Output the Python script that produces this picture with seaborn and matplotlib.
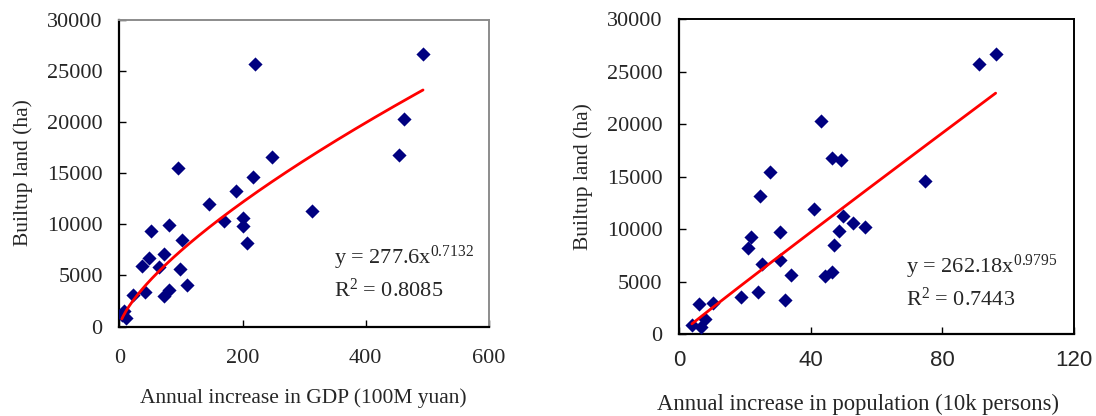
import numpy as np
import pandas as pd
import matplotlib
matplotlib.use("Agg")
import matplotlib.pyplot as plt
import seaborn as sns

# ---- data ----
gdp_x = [493, 220, 462, 454, 248, 96, 217, 190, 145, 312, 170, 200, 200, 207, 80,
         52, 102, 72, 48, 65, 36, 98, 110, 41, 81, 72, 22, 7, 10, 4]
gdp_y = [26660, 25700, 20300, 16800, 16600, 15500, 14600, 13200, 12000, 11300, 10300,
         10600, 9800, 8200, 9900, 9300, 8500, 7100, 6700, 5800, 5900, 5600, 4100, 3400,
         3600, 3000, 3100, 1500, 800, 1100]

pop_x = [96.2, 91.2, 43.2, 46.6, 49.2, 27.6, 74.8, 24.6, 41.0, 49.7, 52.9, 56.4, 48.5,
         30.7, 21.9, 20.8, 47.1, 25.1, 30.8, 34.1, 46.4, 44.3, 24.0, 18.8, 32.3, 6.1,
         10.2, 8.0, 3.9, 6.6]
pop_y = [26670, 25740, 20310, 16820, 16600, 15460, 14600, 13140, 11960, 11270, 10570,
         10250, 9840, 9770, 9300, 8190, 8500, 6670, 7050, 5680, 5900, 5520, 4000, 3580,
         3300, 2920, 2980, 1460, 890, 670]

# power trend lines y = a * x^b (from the equations shown)
gdp_fit = (277.6, 0.7132, 0.8085)
pop_fit = (262.18, 0.9795, 0.7443)

gdp_ticks = [0, 200, 400, 600]
pop_ticks = [0, 40, 80, 120]
y_ticks = [0, 5000, 10000, 15000, 20000, 25000, 30000]

sns.set_style("ticks")
serif = ["Liberation Serif", "DejaVu Serif"]
narrow = ["Liberation Sans Narrow", "Liberation Sans", "DejaVu Sans"]
plt.rcParams["font.family"] = serif
plt.rcParams["mathtext.fontset"] = "custom"
plt.rcParams["mathtext.rm"] = "Liberation Serif"
plt.rcParams["mathtext.it"] = "Liberation Serif:italic"
plt.rcParams["mathtext.bf"] = "Liberation Serif:bold"

fig = plt.figure(figsize=(10.96, 4.16), dpi=100)
ax1 = fig.add_axes([0.1089, 0.215, 0.3372, 0.738])
ax2 = fig.add_axes([0.6196, 0.1964, 0.3603, 0.7572])

navy = "#000080"


def panel(ax, xs, ys, fit, xmax, xticks, xlabel, xlabel_size, xlabel_xy, eq_pos,
          xtick_family, xpad, frame_col, eq_text):
    df = pd.DataFrame({"x": xs, "y": ys})
    sns.scatterplot(data=df, x="x", y="y", ax=ax, marker="D", s=52, color=navy,
                    edgecolor=navy, linewidth=0, zorder=3)
    a, b, r2 = fit
    xx = np.linspace(min(xs), max(xs), 200)
    line = pd.DataFrame({"x": xx, "y": a * xx ** b})
    sns.lineplot(data=line, x="x", y="y", ax=ax, color="#ff0000", linewidth=2, zorder=4)
    ax.set_xlim(0, xmax)
    ax.set_ylim(0, 30000)
    ax.set_xticks(xticks)
    ax.set_yticks(y_ticks)
    ax.set_xticklabels([str(t) for t in xticks], family=xtick_family, fontsize=16)
    ax.set_yticklabels([str(t) for t in y_ticks], family=serif, fontsize=16)
    ax.tick_params(axis="both", direction="in", length=5, width=1, color="black")
    ax.tick_params(axis="x", pad=xpad)
    ax.tick_params(axis="y", pad=12)
    ax.set_xlabel(xlabel, fontsize=xlabel_size, family=serif, va="center")
    ax.xaxis.set_label_coords(*xlabel_xy)
    ax.set_ylabel("Builtup land (ha)", fontsize=15.5, family=serif, labelpad=10)
    for s in ["left", "bottom"]:
        ax.spines[s].set_color("black")
        ax.spines[s].set_linewidth(1.6)
    for s in ["top", "right"]:
        ax.spines[s].set_color(frame_col)
        ax.spines[s].set_linewidth(1.4)
    ax.text(eq_pos[0], eq_pos[1], eq_text[0], transform=ax.transAxes, fontsize=16,
            family=serif, va="center", ha="left")
    ax.text(eq_pos[0], eq_pos[1] - 0.105, eq_text[1], transform=ax.transAxes,
            fontsize=16, family=serif, va="center", ha="left")


panel(ax1, gdp_x, gdp_y, gdp_fit, 600, gdp_ticks, "Annual increase in GDP (100M yuan)",
      15.5, (0.497, -0.232), (0.58, 0.225), serif, 16, "#8c8c8c",
      (r"y = 277.6x$^{\mathregular{0.7132}}$", r"R$^{\mathregular{2}}$ = 0.8085"))
panel(ax2, pop_x, pop_y, pop_fit, 120, pop_ticks, "Annual increase in population (10k persons)",
      16.3, (0.452, -0.222), (0.575, 0.215), narrow, 11, "black",
      (r"y = 262.18x$^{\mathregular{0.9795}}$", r"R$^{\mathregular{2}}$ = 0.7443"))

fig.savefig("out.png", dpi=100)
